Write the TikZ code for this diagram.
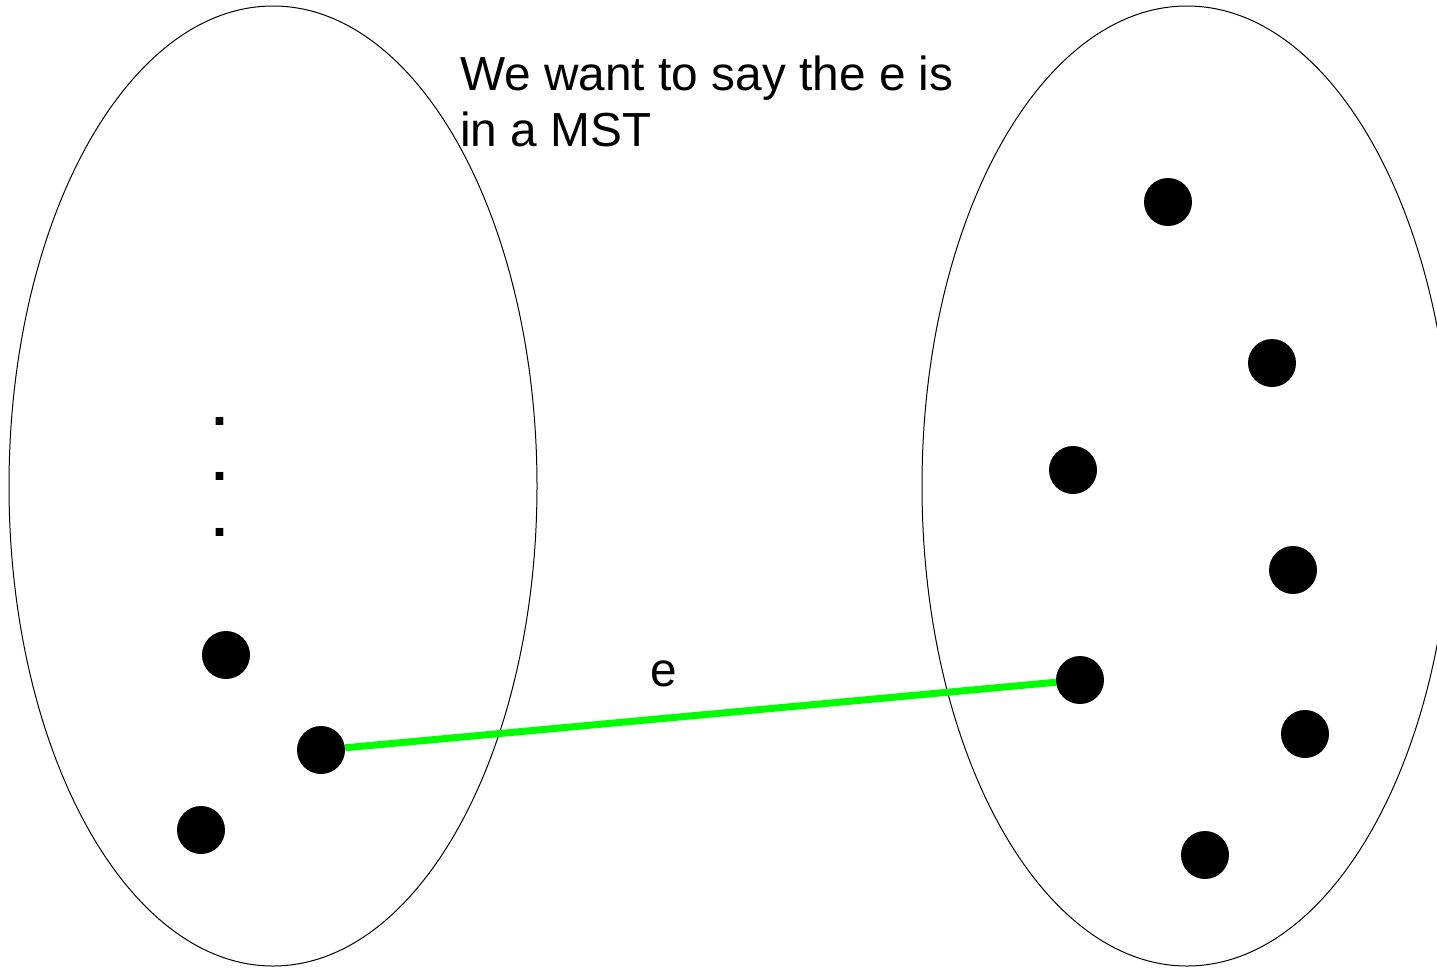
\documentclass[tikz,border=0pt]{standalone}
\usepackage{fontspec}
\setmainfont{Liberation Sans}
\tikzset{
  vertex/.style={circle, fill=black, draw=none, minimum size=48pt, inner sep=0pt},
  setshape/.style={draw=black, line width=1pt},
  edgeline/.style={draw={rgb,255:red,0;green,255;blue,0}, line width=7pt},
  label text/.style={font=\fontsize{47.8}{56}\selectfont, inner sep=0pt},
  ellipsis dot/.style={font=\fontsize{54}{56}\selectfont\bfseries, inner sep=0pt, anchor=base},
}
\begin{document}
\begin{tikzpicture}[x=1pt, y=-1pt]
\useasboundingbox (0,0) rectangle (1437,967);
\clip (0,0) rectangle (1437,967);
% the two sets
\draw[setshape] (273,486) ellipse [x radius=264pt, y radius=480pt];
\draw[setshape] (1187,486) ellipse [x radius=265pt, y radius=480pt];
% caption
\node[label text, anchor=base west] (cap1) at (460,90) {We want to say the e is};
\node[label text, anchor=base west] (cap2) at (460,146) {in a MST};
% dots in left set
\node[ellipsis dot] (p1) at (220,425) {.};
\node[ellipsis dot] (p2) at (220,480) {.};
\node[ellipsis dot] (p3) at (220,536) {.};
% vertices
\node[vertex] (l1) at (226,655) {};
\node[vertex] (l2) at (321,750) {};
\node[vertex] (l3) at (201,830) {};
\node[vertex] (r1) at (1168,202) {};
\node[vertex] (r2) at (1272,363) {};
\node[vertex] (r3) at (1073,470) {};
\node[vertex] (r4) at (1293,570) {};
\node[vertex] (r5) at (1080,680) {};
\node[vertex] (r6) at (1305,734) {};
\node[vertex] (r7) at (1205,855) {};
% edge e
\draw[edgeline] (l2) -- (r5);
\node[label text, anchor=base] (elabel) at (663.5,686) {e};
\end{tikzpicture}
\end{document}
